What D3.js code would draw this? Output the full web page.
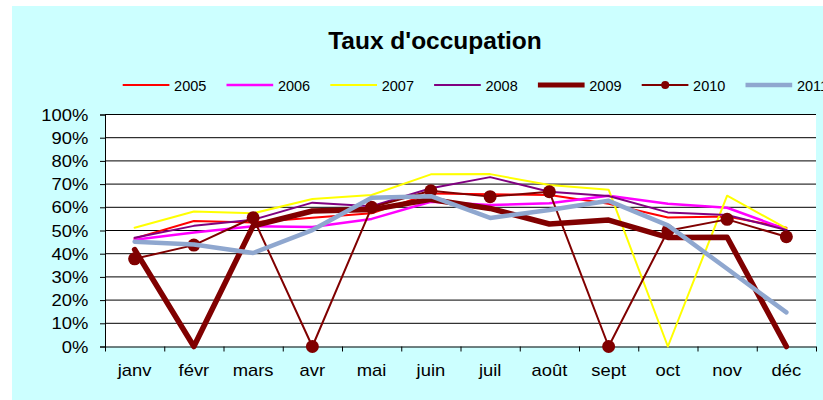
<!DOCTYPE html>
<html>
<head>
<meta charset="utf-8">
<script src="https://cdn.jsdelivr.net/npm/d3@7"></script>
<style>
  body { margin: 0; background: #fff; }
  svg { display: block; font-family: "Liberation Sans", Arial, sans-serif; }
</style>
</head>
<body>
<svg id="chart" width="823" height="400"></svg>
<script>
// months on the x axis
const months = ['janv', 'févr', 'mars', 'avr', 'mai', 'juin', 'juil', 'août', 'sept', 'oct', 'nov', 'déc']
const years = ['2005', '2006', '2007', '2008', '2009', '2010', '2011']

// occupancy rate in %
const s2005 = [46.6, 54.1, 53.5, 55.5, 57.4, 66.0, 65.6, 65.3, 61.5, 55.6, 56.0, 51.2]
const s2006 = [46.0, 49.1, 51.8, 51.5, 55.0, 62.4, 61.0, 61.7, 65.0, 61.5, 59.8, 50.5]
const s2007 = [51.2, 58.2, 57.4, 63.6, 65.3, 74.2, 74.3, 69.6, 67.6, 0, 65.0, 50.9]
const s2008 = [46.9, 52.0, 54.6, 62.0, 60.5, 68.2, 73.0, 66.7, 64.9, 57.8, 56.7, 50.2]
const s2009 = [41.8, 0, 52.0, 58.4, 59.0, 63.4, 59.5, 52.8, 54.5, 47.0, 47.1, 0]
const s2010 = [37.8, 43.7, 55.5, 0, 60.0, 67.1, 64.6, 66.7, 0, 49.9, 54.8, 47.3]
const s2011 = [45.2, 44.0, 40.3, 50.2, 64.1, 64.8, 55.4, 58.8, 62.8, 52.2, 33.5, 14.7]

const yTicks = [0, 0.1, 0.2, 0.3, 0.4, 0.5, 0.6, 0.7, 0.8, 0.9, 1]

const seriesValues = [s2005, s2006, s2007, s2008, s2009, s2010, s2011]
const styles = [
    { color: '#ff0000', width: 2 },
    { color: '#ff00ff', width: 2.5 },
    { color: '#ffff00', width: 2 },
    { color: '#800080', width: 2 },
    { color: '#800000', width: 5.5 },
    { color: '#800000', width: 2, marker: true },
    { color: '#8fa7cf', width: 4.5 }
]

const svg = d3.select('#chart')
const plotLeft = 105, plotRight = 816, plotTop = 114.5, plotBottom = 346.5
const labelStretch = 1.15

// cyan chart background, white page edge on top and left
svg.append('rect').attr('x', 12).attr('y', 6).attr('width', 823 - 12).attr('height', 400 - 6).attr('fill', '#ccffff')
svg.append('rect').attr('x', plotLeft).attr('y', plotTop).attr('width', plotRight - plotLeft).attr('height', plotBottom - plotTop).attr('fill', '#fff')

const x = d3.scaleBand().domain(months).range([plotLeft, plotRight]).padding(0)
const xEdges = d3.scaleLinear().domain([0, months.length]).range([plotLeft, plotRight])
const y = d3.scaleLinear().domain([0, 1]).range([plotBottom, plotTop])

// gridlines
svg.append('g').selectAll('line').data(yTicks.slice(1))
    .join('line')
    .attr('x1', plotLeft).attr('x2', plotRight)
    .attr('y1', d => y(d)).attr('y2', d => y(d))
    .attr('stroke', '#000').attr('stroke-width', 1)

// y axis
const axisY = d3.axisLeft(y).tickValues(yTicks).tickFormat(d3.format('.0%')).tickSize(5)
svg.append('g').attr('transform', `translate(${plotLeft},0)`).call(axisY)
    .call(g => g.selectAll('text')
        .attr('font-size', 16).attr('fill', '#000').attr('font-family', '"Liberation Sans", Arial, sans-serif')
        .attr('x', -16.7 / labelStretch)
        .attr('dy', '0.35em')
        .attr('transform', `scale(${labelStretch},1)`))
    .call(g => g.select('.domain').attr('stroke', '#000'))

// x axis: tick marks between months, labels at the centres
const axisXTicks = d3.axisBottom(xEdges).tickValues(d3.range(months.length + 1)).tickFormat('').tickSize(5)
svg.append('g').attr('transform', `translate(0,${plotBottom})`).call(axisXTicks)
    .call(g => g.select('.domain').attr('d', `M${plotLeft},0.5H${plotRight}`).attr('stroke', '#000'))

const axisX = d3.axisBottom(x).tickSize(0)
svg.append('g').attr('transform', `translate(0,${plotBottom})`).call(axisX)
    .call(g => g.select('.domain').remove())
    .call(g => g.selectAll('text')
        .attr('font-size', 16).attr('fill', '#000').attr('font-family', '"Liberation Sans", Arial, sans-serif')
        .attr('y', 30).attr('dy', 0)
        .attr('transform', `scale(${labelStretch},1)`))

// series
const line = d3.line().x((d, i) => x(months[i]) + x.bandwidth() / 2).y(d => y(d / 100))
const plot = svg.append('g')
seriesValues.forEach((vals, k) => {
    const st = styles[k]
    plot.append('path')
        .attr('d', line(vals))
        .attr('fill', 'none')
        .attr('stroke', st.color)
        .attr('stroke-width', st.width)
        .attr('stroke-linejoin', 'round')
        .attr('stroke-linecap', 'round')
    if (st.marker) {
        plot.append('g').selectAll('circle').data(vals)
            .join('circle')
            .attr('cx', (d, i) => x(months[i]) + x.bandwidth() / 2)
            .attr('cy', d => y(d / 100))
            .attr('r', 6.5)
            .attr('fill', st.color)
    }
})

// title
svg.append('text')
    .attr('x', 435).attr('y', 49.3)
    .attr('text-anchor', 'middle')
    .attr('font-size', 24.5).attr('font-weight', 'bold')
    .text("Taux d'occupation")

// legend
const legend = svg.append('g')
years.forEach((yr, k) => {
    const st = styles[k]
    const x0 = 122.7 + k * 103.8
    const g = legend.append('g').attr('transform', `translate(${x0},85)`)
    g.append('line').attr('x1', 0).attr('x2', 46.7).attr('y1', 0).attr('y2', 0)
        .attr('stroke', st.color).attr('stroke-width', Math.min(st.width, 5))
    if (st.marker) g.append('circle').attr('cx', 23.5).attr('cy', 0).attr('r', 4).attr('fill', st.color)
    g.append('text').attr('x', 51.4).attr('y', 6).attr('font-size', 14.5).text(yr)
})
</script>
</body>
</html>
